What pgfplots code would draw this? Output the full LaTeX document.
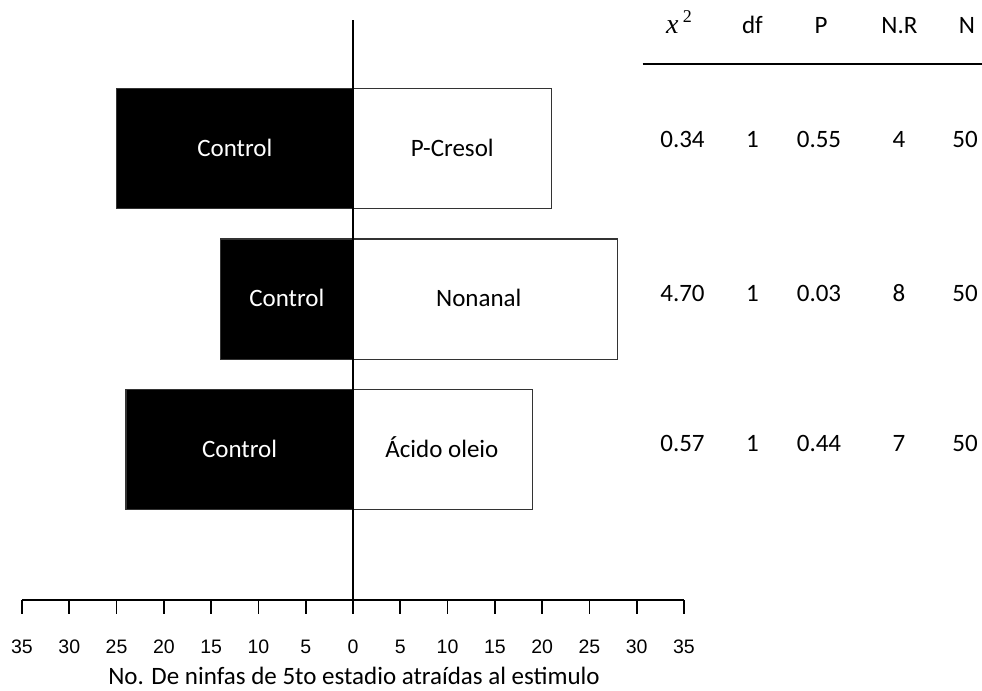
\documentclass[border=0pt]{standalone}
\usepackage{pgfplots}
\pgfplotsset{compat=1.18}
\usepackage{fontspec}
\setmainfont{Carlito}
\newfontfamily\tickfont{Liberation Sans}
\newfontfamily\cambria{Liberation Serif}
\begin{document}
\fontsize{12.5pt}{15pt}\selectfont
\begin{tikzpicture}
\useasboundingbox (0,0) rectangle (491pt,345.5pt);
\begin{axis}[
  at={(11pt,45.5pt)}, anchor=south west,
  scale only axis, width=331pt, height=290pt,
  xmin=-35, xmax=35, ymin=0, ymax=3.854,
  axis x line*=bottom, axis y line=none,
  axis line style={-, line width=1pt},
  xtick={-35,-30,...,35},
  xticklabels={35,30,25,20,15,10,5,0,5,10,15,20,25,30,35},
  xtick align=outside, major tick length=7pt,
  tick style={line width=0.9pt, black},
  xticklabel style={font=\tickfont\fontsize{9.75pt}{10pt}\selectfont, anchor=base, yshift=-20pt},
  clip=false,
]
\addplot[xbar, bar shift=0pt, bar width=0.8, fill=black, draw=black!80, line width=0.7pt] coordinates {(-25,3) (-14,2) (-24,1)};
\addplot[xbar, bar shift=0pt, bar width=0.8, fill=white, draw=black!80, line width=0.7pt] coordinates {(21,3) (28,2) (19,1)};
\addplot[black, line width=1.4pt] coordinates {(0,0) (0,3.854)};
\node[anchor=base, text=white] at (axis cs:-12.5,2.947) {Control};
\node[anchor=base, text=white] at (axis cs:-7,1.947) {Control};
\node[anchor=base, text=white] at (axis cs:-12,0.947) {Control};
\node[anchor=base] at (axis cs:10.5,2.947) {P-Cresol};
\node[anchor=base] at (axis cs:13.3,1.947) {Nonanal};
\node[anchor=base] at (axis cs:9.4,0.947) {Ácido oleio};
\end{axis}
% table
\node[anchor=base] at (339.5pt,328.5pt) {{\cambria\itshape\fontsize{14pt}{16pt}\selectfont x}\,\raisebox{5.5pt}{\cambria\fontsize{9pt}{10pt}\selectfont 2}};
\foreach \x/\t in {376.25/df,410.5/P,449.75/N.R,483.5/N}
  \node[anchor=base] at (\x pt,328.5pt) {\t};
\draw[line width=1.2pt] (321.35pt,313.35pt) -- (491pt,313.35pt);
\foreach \y/\a/\b/\c/\d/\e in {271.5/0.34/1/0.55/4/50, 194.65/4.70/1/0.03/8/50, 119.65/0.57/1/0.44/7/50}{
  \node[anchor=base] at (341.25pt,\y pt) {\a};
  \node[anchor=base] at (376.25pt,\y pt) {\b};
  \node[anchor=base] at (409.5pt,\y pt) {\c};
  \node[anchor=base] at (449.5pt,\y pt) {\d};
  \node[anchor=base] at (482.5pt,\y pt) {\e};
}
\node[anchor=base, inner sep=1pt] at (177pt,3pt) {No. De ninfas de 5to estadio atraídas al estimulo};
\end{tikzpicture}
\end{document}
